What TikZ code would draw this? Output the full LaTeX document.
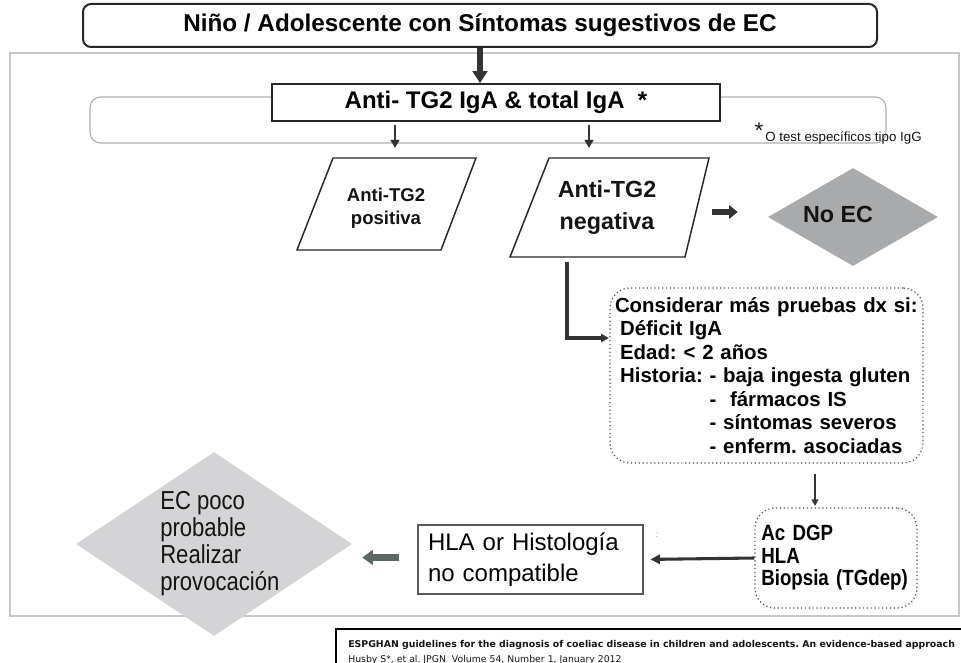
\documentclass[tikz,border=0pt]{standalone}
\usepackage{fontspec}
\setmainfont{Liberation Sans}
\newfontfamily\narrowfont[FakeStretch=0.85]{Liberation Sans}
\newfontfamily\verdfont{DejaVu Sans}
\usetikzlibrary{arrows.meta,shapes.geometric,calc}
\definecolor{arrowgreen}{HTML}{5C6862}
\definecolor{noecgray}{HTML}{A9AAAC}
\definecolor{ecpgray}{HTML}{D4D4D6}
\tikzset{
  titlebox/.style={draw=black!85, line width=1.5pt, rounded corners=6pt, fill=white,
    minimum width=595.5pt, minimum height=32.25pt, inner sep=0pt},
  antibox/.style={draw=black!85, line width=1.4pt, fill=white,
    minimum width=336pt, minimum height=27.75pt, inner sep=0pt},
  paraline/.style={draw=black!85, line width=1.1pt, line join=miter},
  softframe/.style={draw=black!22, line width=0.8pt},
  softround/.style={draw=black!32, line width=0.8pt, rounded corners=8pt},
  dotbox/.style={draw=black!70, line width=0.9pt, dotted, rounded corners=15pt, align=left},
  plainbox/.style={draw=black!65, line width=0.8pt, align=left},
  heavyarrow/.style={draw=black!80, line width=4pt, -{Triangle[length=9pt,width=11pt]}},
  smallarrow/.style={draw=black!80, line width=1.5pt, -{Triangle[length=6pt,width=6.5pt]}},
  stubarrow/.style={draw=black!80, line width=4pt, -{Triangle[length=6.5pt,width=10pt]}},
  larrow/.style={draw=black!80, line width=2.3pt, -{Triangle[length=6pt,width=6pt]}},
  thinarrow/.style={draw=black!80, line width=1.1pt, -{Triangle[length=5pt,width=5pt]}},
  midarrow/.style={draw=black!80, line width=2.3pt, -{Triangle[length=7pt,width=7pt]}},
  blockarrow/.style={draw=arrowgreen, line width=5pt, -{Triangle[length=8pt,width=11pt]}},
  diamondshape/.style={diamond, inner sep=0pt, draw=none},
  txt/.style={inner sep=0pt, text=black!92},
}
\begin{document}
\frenchspacing
\begin{tikzpicture}[x=0.75pt,y=-0.75pt]
\useasboundingbox (0,0) rectangle (961,663);

% frames
\draw[softframe] (10,53) rectangle (959,616);
\draw[softround] (90,97) rectangle (886,143);

% title
\node[titlebox, font=\bfseries\fontsize{18.2pt}{21pt}\selectfont] (title) at (480,25.5)
  {Niño / Adolescente con Síntomas sugestivos de EC};

% anti box
\node[antibox, font=\bfseries\fontsize{18pt}{21pt}\selectfont] (anti) at (496,102.5)
  {Anti- TG2 IgA \& total IgA\ \ *};

% footnote
\node[txt, font=\fontsize{17pt}{18pt}\selectfont] (fstar) at (759,131) {*};
\node[txt, anchor=west, font=\fontsize{10pt}{12pt}\selectfont] (fnote) at (765,138)
  {O test específicos tipo IgG};

% parallelograms
\draw[paraline] (297,250) -- (333,158) -- (476,158) -- (441,250) -- cycle;
\draw[paraline] (510,257) -- (549,158) -- (709,158) -- (685,257) -- cycle;
\node[txt, align=center, font=\bfseries\fontsize{13.9pt}{17pt}\selectfont] (postxt) at (386,208)
  {Anti-TG2\\positiva};
\node[txt, align=center, font=\bfseries\fontsize{17.5pt}{24pt}\selectfont] (negtxt) at (607,208)
  {Anti-TG2\\negativa};

% No EC diamond
\node[diamondshape, fill=noecgray, minimum width=127.5pt, minimum height=73.5pt] (noec) at (853,217) {};
\node[txt, font=\bfseries\fontsize{17.5pt}{21pt}\selectfont] (noectxt) at (838,214) {No EC};

% considerar box
\node[dotbox, text width=227.25pt, inner xsep=3.75pt, minimum height=131.25pt,
  font=\bfseries\fontsize{15.3pt}{17.6pt}\selectfont] (cons) at (766.5,375.5)
  {Considerar más pruebas dx si:\\
   \hspace*{0.25em}Déficit IgA\\
   \hspace*{0.25em}Edad: < 2 años\\
   \hspace*{0.25em}Historia: - baja ingesta gluten\\
   \hspace*{0.25em}\phantom{Historia:\ }-\ \ fármacos IS\\
   \hspace*{0.25em}\phantom{Historia:\ }- síntomas severos\\
   \hspace*{0.25em}\phantom{Historia:\ }- enferm. asociadas};

% Ac DGP box
\node[dotbox, text width=112pt, inner xsep=4.75pt, minimum height=75pt,
  font=\narrowfont\bfseries\fontsize{16.5pt}{16.9pt}\selectfont] (acdgp) at (836,558)
  {Ac DGP\\HLA\\Biopsia (TGdep)};

% HLA box
\node[plainbox, text width=153.75pt, inner xsep=7.5pt, minimum height=51.75pt,
  font=\fontsize{18pt}{23.25pt}\selectfont] (hla) at (530.5,559.5)
  {HLA or Histología\\no compatible};
\node[txt, text=black!40, font=\fontsize{7pt}{8pt}\selectfont] (stray) at (657,535) {:};

% EC poco probable diamond
\node[diamondshape, fill=ecpgray, minimum width=207pt, minimum height=138pt] (ecp) at (214,544) {};
\node[txt, anchor=west, align=left, font=\narrowfont\fontsize{19.5pt}{20.2pt}\selectfont] (ecptxt) at (160,544)
  {EC poco\\probable\\Realizar\\provocación};

% citation
\draw[black, line width=1.8pt] (336,700) -- (336,629) -- (1000,629);
\node[txt, anchor=west] (cit1) at (348,645)
  {\resizebox{455pt}{!}{\verdfont\bfseries ESPGHAN guidelines for the diagnosis of coeliac disease in children and adolescents. An evidence-based approach}};
\node[txt, anchor=west] (cit2) at (348,659.5)
  {\resizebox{205pt}{!}{\verdfont Husby S*, et al. JPGN\ \ Volume 54, Number 1, January 2012}};

% connector coordinates
\coordinate (posIn) at (395,148);
\coordinate (negIn) at (589,148);
\coordinate (negOut) at (567,262);
\coordinate (consIn) at (609,338);
\coordinate (negRight) at (712,212);
\coordinate (acIn) at (815,506);

% connectors
\draw[heavyarrow] (title.south) -- (title.south |- anti.north);
\draw[smallarrow] ([yshift=-2pt]anti.south -| posIn) -- (posIn);
\draw[smallarrow] ([yshift=-2pt]anti.south -| negIn) -- (negIn);
\draw[stubarrow, shorten >=22.5pt] (negRight) -- (negRight -| noec.west);
\draw[larrow] (negOut) |- (consIn);
\draw[thinarrow, shorten <=7.5pt] (cons.south -| acIn) -- (acIn);
\draw[midarrow, shorten >=5.25pt] (acdgp.west) -- (hla.east);
\draw[blockarrow, shorten <=13.5pt, shorten >=7.5pt] ([yshift=1.5pt]hla.west) -- ([yshift=1.5pt]hla.west -| ecp.east);
\end{tikzpicture}
\end{document}
